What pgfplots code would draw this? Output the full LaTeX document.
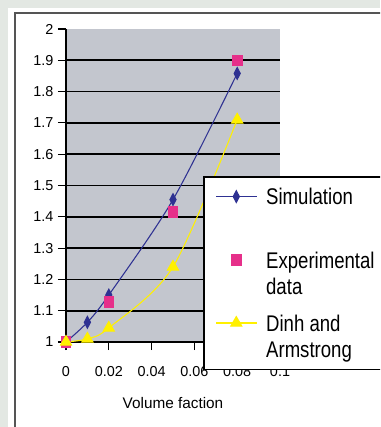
\documentclass[border=0pt]{standalone}
\usepackage{pgfplots}
\pgfplotsset{compat=1.18}
\usepackage{fontspec}
\setmainfont{Liberation Sans}
\newfontfamily\legendfont{Liberation Sans}[FakeStretch=0.82]
\definecolor{outerbg}{HTML}{E3E8E3}
\definecolor{framegray}{HTML}{555555}
\definecolor{plotgray}{HTML}{C3C6CE}
\definecolor{simblue}{HTML}{2E3192}
\definecolor{expmag}{HTML}{E6308A}
\definecolor{dinhyel}{HTML}{FFF000}
\begin{document}
\begin{tikzpicture}
\useasboundingbox (0,0) rectangle (285pt,-320.25pt);
\clip (0,0) rectangle (285pt,-320.25pt);
\begin{scope}[x=0.75pt,y=-0.75pt]
\fill[outerbg] (0,0) rectangle (380,427);
\fill[white] (8,8) rectangle (400,440);
\draw[framegray, line width=1.5pt] (15,440) -- (15,13) -- (400,13);
\end{scope}
\begin{axis}[
  at={(49.5pt,-256.5pt)}, anchor=south west,
  scale only axis, width=160.5pt, height=234.75pt,
  xmin=0, xmax=0.1, ymin=1, ymax=2,
  clip=false,
  axis background/.style={fill=plotgray},
  axis x line*=bottom, axis y line*=left,
  axis line style={black, line width=1pt, -},
  xtick={0,0.02,0.04,0.06,0.08,0.1},
  xticklabels={0,0.02,0.04,0.06,0.08,0.1},
  ytick={1,1.1,1.2,1.3,1.4,1.5,1.6,1.7,1.8,1.9},
  yticklabels={1,1.1,1.2,1.3,1.4,1.5,1.6,1.7,1.8,1.9},
  extra y ticks={2}, extra y tick labels={2},
  extra y tick style={grid=none},
  ymajorgrids, major grid style={black, line width=1.2pt},
  tick align=outside, major tick length=6pt,
  tick style={black, line width=0.8pt},
  tick label style={font=\fontsize{10.8}{12}\selectfont},
  /pgf/number format/assume math mode=true,
  x tick label style={yshift=-9pt},
  xlabel={Volume faction},
  xlabel style={at={(axis description cs:0.5,0)}, anchor=center, yshift=-45.75pt, font=\fontsize{11.5}{13}\selectfont},
  legend cell align=left,
  legend style={at={(0.640,0.530)}, anchor=north west, draw=black, line width=1.2pt, fill=white,
    inner xsep=9pt, inner ysep=5pt, row sep=7.9pt, column sep=5pt,
    font=\legendfont\fontsize{17}{20}\selectfont,
    cells={align=left, inner sep=0pt}},
  legend image code/.code={\draw[yshift=10pt, mark repeat=2,mark phase=2] plot coordinates {(0pt,0pt)(15pt,0pt)(30pt,0pt)};},
]
\addplot[color=simblue, line width=0.8pt, smooth, mark=diamond*, mark size=4.4pt, mark options={xscale=0.7, fill=simblue, draw=simblue}]
  coordinates {(0,1.0) (0.01,1.063) (0.02,1.15) (0.05,1.455) (0.08,1.858)};
\addlegendentry{\strut Simulation\\\strut}
\addplot[only marks, mark=square*, mark size=3.5pt, mark options={fill=expmag, draw=expmag, yscale=1.15}]
  coordinates {(0,1.0) (0.02,1.128) (0.05,1.415) (0.08,1.90)};
\addlegendentry{\strut Experimental\\\strut data}
\addplot[color=dinhyel, line width=0.8pt, smooth, mark=triangle*, mark size=4.8pt, mark options={fill=dinhyel, draw=dinhyel}]
  coordinates {(0,1.0) (0.01,1.01) (0.02,1.045) (0.05,1.24) (0.08,1.71)};
\addlegendentry{\strut Dinh and\\\strut Armstrong}
\end{axis}
\end{tikzpicture}
\end{document}
